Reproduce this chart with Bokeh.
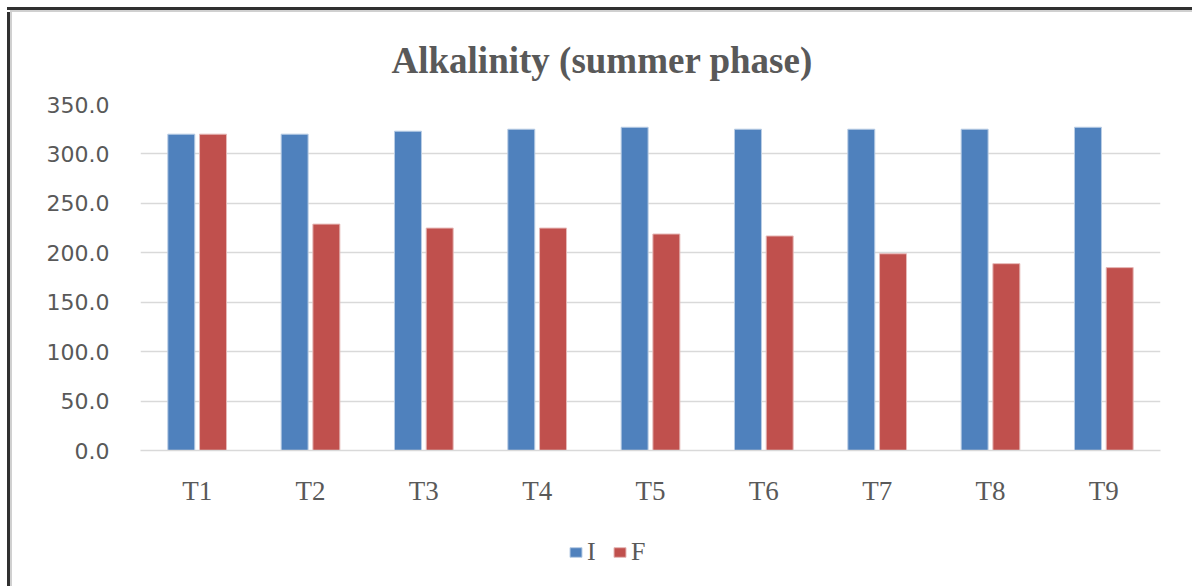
from bokeh.plotting import figure
from bokeh.layouts import column, row
from bokeh.models import (FactorRange, Range1d, Legend, LegendItem, Spacer,
                          NumeralTickFormatter, FixedTicker, ColumnDataSource)
from bokeh.transform import dodge
from bokeh.embed import file_html
from bokeh.resources import INLINE

categories = ["T1", "T2", "T3", "T4", "T5", "T6", "T7", "T8", "T9"]
initial = [320, 320, 323, 325, 327, 325, 325, 325, 327]
final = [320, 229, 225, 225, 219, 217, 199, 189, 185]
y_ticks = [0, 50, 100, 150, 200, 250, 300, 350]
series_names = ["I", "F"]
title_text = "Alkalinity (summer phase)"

BLUE, RED = "#4F81BD", "#C0504D"
BLUE_EDGE, RED_EDGE = "#B9CDE5", "#E6B9B8"
TXT = "#595959"
DARK = "#303030"
LIGHT = "#D0D0D0"

src = ColumnDataSource(dict(cat=categories, I=initial, F=final))

# ---- main chart ----
p = figure(width=1180, height=508, x_range=FactorRange(*categories), y_range=Range1d(0, 350),
           output_backend="svg", toolbar_location=None, title=title_text,
           min_border_left=128, min_border_right=32, min_border_top=92, min_border_bottom=70)
p.outline_line_color = None
p.background_fill_color = "white"
p.border_fill_color = "white"

p.title.align = "left"
p.title.offset = 251
p.title.standoff = 47
p.title.text_font = "Liberation Serif"
p.title.text_font_style = "bold"
p.title.text_font_size = "37px"
p.title.text_color = TXT

rI = p.vbar(x=dodge("cat", -0.14, range=p.x_range), top="I", width=0.238, source=src,
            fill_color=BLUE, line_color=BLUE_EDGE, line_width=1)
rF = p.vbar(x=dodge("cat", 0.14, range=p.x_range), top="F", width=0.238, source=src,
            fill_color=RED, line_color=RED_EDGE, line_width=1)

p.yaxis.ticker = FixedTicker(ticks=y_ticks)
p.yaxis.formatter = NumeralTickFormatter(format="0.0")
p.yaxis.axis_line_color = None
p.yaxis.major_tick_line_color = None
p.yaxis.minor_tick_line_color = None
p.yaxis.major_label_standoff = 25
p.yaxis.major_label_text_font = "DejaVu Sans"
p.yaxis.major_label_text_font_size = "22px"
p.yaxis.major_label_text_color = TXT

p.xaxis.axis_line_color = "#D9D9D9"
p.xaxis.axis_line_width = 1.5
p.xaxis.major_tick_line_color = None
p.xaxis.minor_tick_line_color = None
p.xaxis.major_label_standoff = 19
p.xaxis.major_label_text_font = "Liberation Serif"
p.xaxis.major_label_text_font_size = "27px"
p.xaxis.major_label_text_color = TXT

p.xgrid.grid_line_color = None
p.ygrid.grid_line_color = "#D9D9D9"
p.ygrid.grid_line_width = 1.5

# ---- legend strip: keys use the same series, kept outside its visible y-range ----
pl = figure(width=1180, height=66, x_range=FactorRange(*categories), y_range=Range1d(1000, 1001),
            output_backend="svg", toolbar_location=None,
            min_border_left=0, min_border_right=0, min_border_top=0, min_border_bottom=0)
pl.axis.visible = False
pl.grid.visible = False
pl.outline_line_color = None
kI = pl.vbar(x="cat", top="I", width=0.238, source=src, fill_color=BLUE, line_color=BLUE_EDGE)
kF = pl.vbar(x="cat", top="F", width=0.238, source=src, fill_color=RED, line_color=RED_EDGE)
legend = Legend(items=[LegendItem(label=series_names[0], renderers=[kI]),
                       LegendItem(label=series_names[1], renderers=[kF])],
                orientation="horizontal", location=(428, 19), glyph_width=15, glyph_height=12,
                label_standoff=4, spacing=5, padding=0, margin=0, border_line_color=None,
                background_fill_alpha=0, label_text_font="Liberation Serif",
                label_text_font_size="26px", label_text_color=TXT)
pl.add_layout(legend, "center")

# ---- chart-area border (top and left edges visible) ----
layout = column(
    Spacer(width=1192, height=7),
    row(Spacer(width=7, height=3), Spacer(width=1185, height=3, styles={"background-color": DARK})),
    row(Spacer(width=10, height=2), Spacer(width=1182, height=2, styles={"background-color": LIGHT})),
    row(Spacer(width=7, height=574),
        Spacer(width=3, height=574, styles={"background-color": DARK}),
        Spacer(width=2, height=574, styles={"background-color": LIGHT}),
        column(p, pl)),
)

open("out.html", "w").write(file_html(layout, INLINE))
